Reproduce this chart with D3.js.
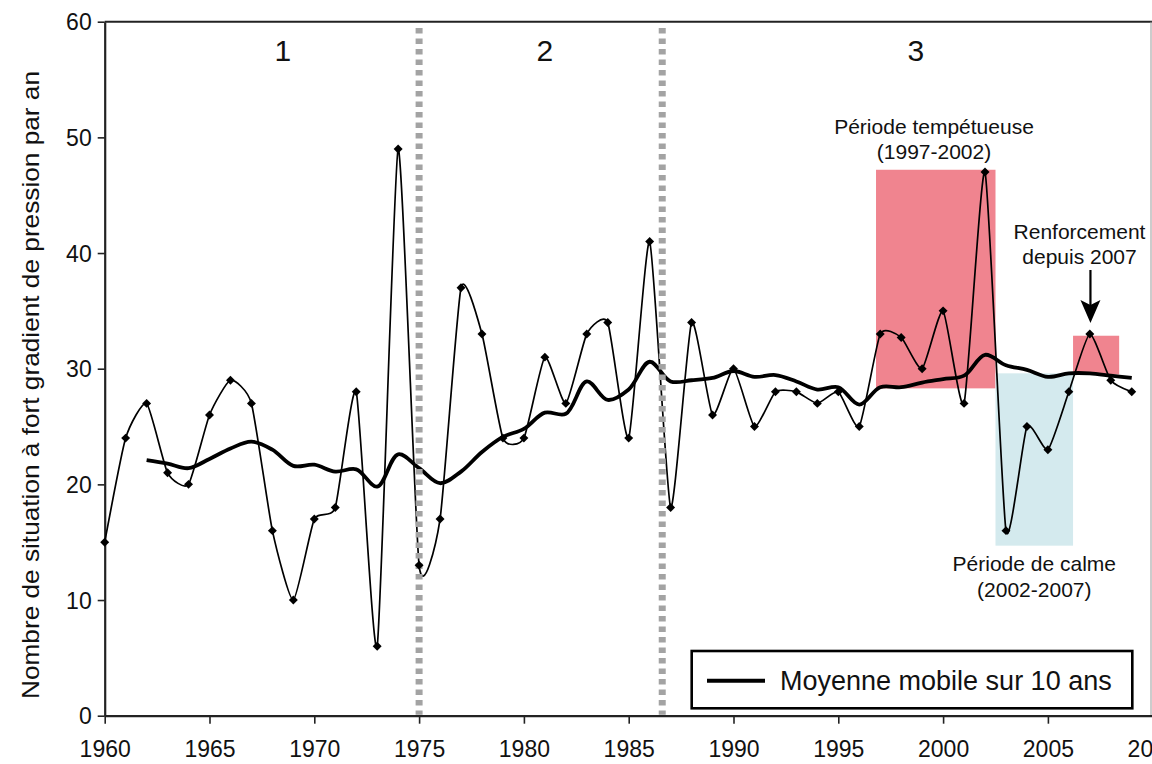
<!DOCTYPE html>
<html>
<head>
<meta charset="utf-8">
<script src="https://cdn.jsdelivr.net/npm/d3@7"></script>
<style>
  html, body { margin: 0; padding: 0; background: #fff; }
  svg { display: block; }
  text { font-family: "Liberation Sans", Arial, sans-serif; fill: #111; }
</style>
</head>
<body>
<svg id="chart" width="1152" height="764"></svg>
<script>
// Yearly counts of strong pressure-gradient situations
const years = d3.range(1960, 2010);
const counts = [15, 24, 27, 21, 20, 26, 29, 27, 16, 10,
                17, 18, 28, 6, 49, 13, 17, 37, 33, 24,
                24, 31, 27, 33, 34, 24, 41, 18, 34, 26,
                30, 25, 28, 28, 27, 28, 25, 33, 32.7, 30,
                35, 27, 47, 16, 25, 23, 28, 33, 29, 28];

// 10-year moving average (1962-2009)
const maYears = d3.range(1962, 2010);
const maValues = [22.1, 21.8, 21.4, 22.2, 23.1, 23.7, 23.0, 21.6,
                  21.7, 21.1, 21.3, 19.8, 22.6, 21.4, 20.1, 21.1, 22.8, 24.1,
                  24.8, 26.2, 26.1, 28.9, 27.3, 28.2, 30.6, 28.9, 29.0, 29.2,
                  29.8, 29.3, 29.45, 28.9, 28.2, 28.4, 26.9, 28.4, 28.4, 28.8,
                  29.1, 29.4, 31.2, 30.3, 29.9, 29.3, 29.6, 29.6, 29.4, 29.2];

// Period boundaries and labels
const dividers = [1975, 1986.6];
const periodLabels = ["1", "2", "3"];
const periodLabelYears = [1968.5, 1981, 1998.7];

// Highlighted periods: [startYear, endYear, low, high]
const highlights = [
  { x0: 1996.8, x1: 2002.5, y0: 28.3, y1: 47.2, color: "#F0848F" },
  { x0: 2002.5, x1: 2006.2, y0: 14.7, y1: 29.6, color: "#D4EAEE" },
  { x0: 2006.2, x1: 2008.4, y0: 29.5, y1: 32.85, color: "#F0848F" }
];

const xTicks = d3.range(1960, 2011, 5);
const yTicks = d3.range(0, 61, 10);

const svg = d3.select("#chart");
const plot = { left: 104.7, right: 1152.7, top: 21.7, bottom: 715.7 };

const x = d3.scaleLinear().domain([1960, 2010]).range([plot.left, plot.right]);
const y = d3.scaleLinear().domain([0, 60]).range([plot.bottom, plot.top]);

// Highlight rectangles
svg.append("g").selectAll("rect").data(highlights).join("rect")
  .attr("x", d => x(d.x0)).attr("width", d => x(d.x1) - x(d.x0))
  .attr("y", d => y(d.y1)).attr("height", d => y(d.y0) - y(d.y1))
  .attr("fill", d => d.color);

// Frame: top and right edges
svg.append("line").attr("x1", plot.left).attr("x2", plot.right).attr("y1", plot.top).attr("y2", plot.top)
  .attr("stroke", "#222").attr("stroke-width", 2);
svg.append("line").attr("x1", 1151).attr("x2", 1151).attr("y1", plot.top).attr("y2", plot.bottom)
  .attr("stroke", "#999").attr("stroke-width", 1);

// Axes
const xAxis = svg.append("g").attr("transform", `translate(0,${plot.bottom})`)
  .call(d3.axisBottom(x).tickValues(xTicks).tickFormat(d3.format("d")).tickSize(8).tickSizeOuter(0));
xAxis.select(".domain").attr("stroke", "#222").attr("stroke-width", 2.2);
xAxis.selectAll(".tick line").attr("stroke", "#222").attr("stroke-width", 1.6);
xAxis.selectAll(".tick text").attr("font-size", 23).attr("dy", 0).attr("y", 41)
  .attr("font-family", "Liberation Sans, Arial, sans-serif").attr("fill", "#111");

const yAxis = svg.append("g").attr("transform", `translate(${plot.left},0)`)
  .call(d3.axisLeft(y).tickValues(yTicks).tickSize(7).tickSizeOuter(0));
yAxis.select(".domain").attr("stroke", "#222").attr("stroke-width", 2.2);
yAxis.selectAll(".tick line").attr("stroke", "#222").attr("stroke-width", 1.6);
yAxis.selectAll(".tick text").attr("font-size", 23).attr("x", -13).attr("dy", "0.36em")
  .attr("font-family", "Liberation Sans, Arial, sans-serif").attr("fill", "#111");

// Y-axis title
svg.append("text")
  .attr("transform", "translate(39,385) rotate(-90)")
  .attr("text-anchor", "middle")
  .attr("font-size", 24)
  .attr("textLength", 628).attr("lengthAdjust", "spacingAndGlyphs")
  .text("Nombre de situation à fort gradient de pression par an");

// Moving average (thick)
const maData = maYears.map((yr, i) => [yr, maValues[i]]);
svg.append("path").datum(maData)
  .attr("fill", "none").attr("stroke", "#000").attr("stroke-width", 3.8)
  .attr("stroke-linejoin", "round")
  .attr("d", d3.line().x(d => x(d[0])).y(d => y(d[1])).curve(d3.curveCatmullRom.alpha(0.5)));

// Yearly series (thin smoothed)
const data = years.map((yr, i) => [yr, counts[i]]);
svg.append("path").datum(data)
  .attr("fill", "none").attr("stroke", "#000").attr("stroke-width", 1.7)
  .attr("d", d3.line().x(d => x(d[0])).y(d => y(d[1])).curve(d3.curveCardinal.tension(0.45)));

// Period dividers
svg.append("g").selectAll("line").data(dividers).join("line")
  .attr("x1", d => x(d)).attr("x2", d => x(d))
  .attr("y1", 28).attr("y2", plot.bottom - 1)
  .attr("stroke", "#A3A3A3").attr("stroke-width", 7)
  .attr("stroke-dasharray", "5.5,5");

// Markers
svg.append("g").selectAll("path").data(data).join("path")
  .attr("transform", d => `translate(${x(d[0])},${y(d[1])}) rotate(45)`)
  .attr("d", d3.symbol(d3.symbolSquare, 40))
  .attr("fill", "#000");

// Period numbers
svg.append("g").selectAll("text").data(periodLabels).join("text")
  .attr("x", (d, i) => x(periodLabelYears[i]))
  .attr("y", 61)
  .attr("text-anchor", "middle")
  .attr("font-family", "Open Sans, sans-serif")
  .attr("font-size", 30)
  .text(d => d);

// Annotations
const notes = [
  { text: "Période tempétueuse", cx: 934, by: 134 },
  { text: "(1997-2002)", cx: 934, by: 159 },
  { text: "Renforcement", cx: 1079.5, by: 238.5 },
  { text: "depuis 2007", cx: 1079.5, by: 263.5 },
  { text: "Période de calme", cx: 1034.3, by: 570.7 },
  { text: "(2002-2007)", cx: 1034.3, by: 597 }
];
svg.append("g").selectAll("text").data(notes).join("text")
  .attr("x", d => d.cx).attr("y", d => d.by)
  .attr("text-anchor", "middle").attr("font-size", 21)
  .text(d => d.text);

// Arrow pointing at 2007
const ax = x(2007.03);
svg.append("line").attr("x1", ax).attr("x2", ax).attr("y1", 270).attr("y2", 305)
  .attr("stroke", "#000").attr("stroke-width", 2.2);
svg.append("path")
  .attr("d", `M${ax - 10},300 L${ax},323 L${ax + 10},300 L${ax},305 Z`)
  .attr("fill", "#000");

// Legend
const lg = svg.append("g");
lg.append("rect").attr("x", 691.7).attr("y", 651).attr("width", 440.6).attr("height", 57.3)
  .attr("fill", "#fff").attr("stroke", "#000").attr("stroke-width", 2.6);
lg.append("line").attr("x1", 707).attr("x2", 765).attr("y1", 680.7).attr("y2", 680.7)
  .attr("stroke", "#000").attr("stroke-width", 4);
lg.append("text").attr("x", 780).attr("y", 690).attr("font-size", 27)
  .text("Moyenne mobile sur 10 ans");
</script>
</body>
</html>
